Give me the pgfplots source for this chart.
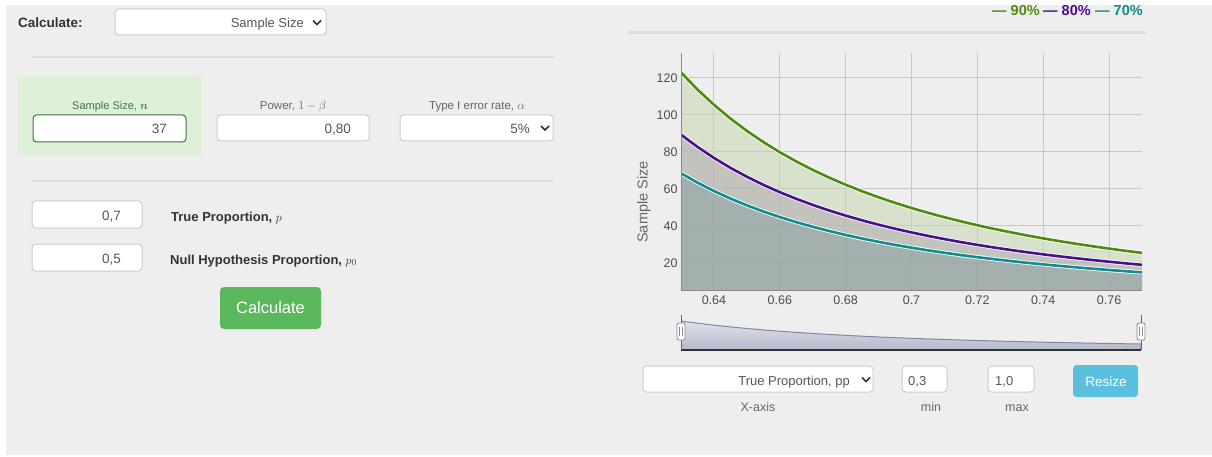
\documentclass[border=0pt]{standalone}
\usepackage{pgfplots}
\pgfplotsset{compat=1.18}
\usepackage{pgfplotstable}
\usepackage{fontspec}
\setmainfont{Liberation Sans}
\usepackage{bm}

\definecolor{pagebg}{HTML}{EEEEEE}
\definecolor{rulec}{HTML}{DDDDDD}
\definecolor{boxline}{HTML}{CCCCCC}
\definecolor{txt}{HTML}{555555}
\definecolor{lbl}{HTML}{666666}
\definecolor{dark}{HTML}{333333}
\definecolor{okfill}{HTML}{DFF0D8}
\definecolor{okline}{HTML}{D6E9C6}
\definecolor{oktext}{HTML}{3C763D}
\definecolor{btngreen}{HTML}{5CB85C}
\definecolor{btnblue}{HTML}{5BC0DE}
\definecolor{c90}{HTML}{4E8A0E}
\definecolor{c80}{HTML}{4B0E8D}
\definecolor{c70}{HTML}{0E8C8E}
\definecolor{f90}{RGB}{194,214,172}
\definecolor{f80}{RGB}{176,166,175}
\definecolor{f70}{RGB}{132,158,158}
\definecolor{gridc}{HTML}{C8C8C8}
\definecolor{axisc}{HTML}{8A8A8A}
\definecolor{tickc}{HTML}{4D4D4D}
\definecolor{navtop}{HTML}{DFE1EA}
\definecolor{navbot}{HTML}{B4B9CC}
\definecolor{navline}{HTML}{7D88A8}

\newcommand\fs[1]{\fontsize{#1}{#1}\selectfont}

% sample size n against true proportion p, for power 90%, 80%, 70%
\pgfplotstableread{
p n90 n80 n70
0.630 122.89 89.33 68.45
0.635 113.68 82.68 63.39
0.640 105.44 76.73 58.86
0.645 98.03 71.39 54.79
0.650 91.35 66.57 51.12
0.655 85.31 62.20 47.80
0.660 79.82 58.24 44.79
0.665 74.83 54.64 42.05
0.670 70.27 51.34 39.54
0.675 66.09 48.33 37.25
0.680 62.26 45.56 35.14
0.685 58.73 43.02 33.20
0.690 55.47 40.67 31.41
0.695 52.47 38.50 29.76
0.700 49.68 36.49 28.23
0.705 47.10 34.62 26.81
0.710 44.69 32.89 25.50
0.715 42.46 31.27 24.27
0.720 40.37 29.77 23.12
0.725 38.42 28.36 22.05
0.730 36.60 27.04 21.05
0.735 34.89 25.81 20.11
0.740 33.28 24.65 19.23
0.745 31.77 23.56 18.40
0.750 30.35 22.54 17.62
0.755 29.02 21.57 16.89
0.760 27.75 20.66 16.20
0.765 26.56 19.80 15.54
0.770 25.44 18.99 14.93
}\sizes

\begin{document}
\begin{tikzpicture}[x=1pt,y=-1pt,
  box/.style={fill=white,draw=boxline,line width=1pt,rounded corners=3.5pt},
  chev/.style={dark,line width=1.7pt},
  t/.style={inner sep=0,yshift=-3pt},
  ts/.style={inner sep=0,yshift=-2.5pt}]
\useasboundingbox (0,0) rectangle (1212,457);
\clip (0,0) rectangle (1212,457);
\fill[white] (0,0) rectangle (1212,457);
\fill[pagebg] (6,5) rectangle (1212,455);

% ---- left panel
\node[t,anchor=mid west,text=dark,font=\fs{13.5}\bfseries] at (18,22) {Calculate:};
\draw[box] (115,9) rectangle (326,35);
\node[t,anchor=mid east,text=txt,font=\fs{13}] at (304,22) {Sample Size};
\draw[chev] (313,20.5) -- (317,24.5) -- (321,20.5);
\draw[rulec,line width=2pt] (32,57) -- (554,57);

\draw[okline,fill=okfill,rounded corners=3pt] (18,76) rectangle (201,156);
\node[ts,anchor=mid,text=oktext,font=\fs{11}] at (110,104) {Sample Size, $\bm{n}$};
\draw[box,draw=oktext] (33,115) rectangle (186,142);
\node[t,anchor=mid east,text=txt,font=\fs{13.5}] at (167,128) {37};

\node[ts,anchor=mid,text=lbl,font=\fs{11.5}] at (293,104) {Power, $1-\beta$};
\draw[box] (217,115) rectangle (369,141);
\node[t,anchor=mid east,text=txt,font=\fs{13.5}] at (351,128) {0,80};

\node[ts,anchor=mid,text=lbl,font=\fs{11.5}] at (477,104) {Type I error rate, $\alpha$};
\draw[box] (400,115) rectangle (553,141);
\node[t,anchor=mid east,text=txt,font=\fs{13.5}] at (530,128) {5\%};
\draw[chev] (541,126) -- (545,130) -- (549,126);

\draw[rulec,line width=2pt] (32,181) -- (554,181);

\draw[box] (32,201) rectangle (142,228);
\node[t,anchor=mid east,text=txt,font=\fs{13.5}] at (121,214.5) {0,7};
\node[t,anchor=mid west,text=dark,font=\fs{13}\bfseries] at (171,215.5) {True Proportion, $p$};
\draw[box] (32,244) rectangle (142,271);
\node[t,anchor=mid east,text=txt,font=\fs{13.5}] at (121,257.5) {0,5};
\node[t,anchor=mid west,text=dark,font=\fs{13}\bfseries] at (170,258.5) {Null Hypothesis Proportion, $p_0$};

\fill[btngreen,rounded corners=4pt] (220,287) rectangle (321,329);
\node[inner sep=0,yshift=-4pt,anchor=mid,text=white,font=\fs{16.5}] at (270.5,307) {Calculate};

% ---- right panel: legend and rule
\begin{scope}
\clip (900,4.5) rectangle (1212,40);
\node[anchor=base west,inner sep=0,text=c90,font=\fs{14.5}\bfseries] at (992,16) {— 90\%};
\node[anchor=base west,inner sep=0,text=c80,font=\fs{14.5}\bfseries] at (1043,16) {— 80\%};
\node[anchor=base west,inner sep=0,text=c70,font=\fs{14.5}\bfseries] at (1095,16) {— 70\%};
\end{scope}
\draw[rulec,line width=3pt] (628,32.5) -- (1146,32.5);

\node[anchor=mid,rotate=90,inner sep=0,text=lbl,font=\fs{14.5}] at (645,202) {Sample Size};

\begin{axis}[
  at={(681pt,-290pt)}, anchor=south west,
  scale only axis, width=461pt, height=237pt,
  xmin=0.63, xmax=0.77, ymin=5.4, ymax=133.4,
  xtick={0.64,0.66,0.68,0.70,0.72,0.74,0.76},
  xticklabels={0.64,0.66,0.68,0.7,0.72,0.74,0.76},
  ytick={20,40,60,80,100,120},
  scaled ticks=false,
  /pgf/number format/assume math mode=true,
  tick label style={font=\fs{12.5}, text=tickc},
  xticklabel style={yshift=-2pt},
  major tick length=0pt, tick style={draw=none},
  axis line style={draw=none},
  grid=major, grid style={draw=gridc, line width=1pt},
]
\addplot[draw=none, fill=f90, fill opacity=0.5] table[x=p,y=n90]{\sizes} \closedcycle;
\addplot[draw=none, fill=f80, fill opacity=0.5] table[x=p,y=n80]{\sizes} \closedcycle;
\addplot[draw=none, fill=f70, fill opacity=0.5] table[x=p,y=n70]{\sizes} \closedcycle;
\addplot[white, line width=4.2pt] table[x=p,y=n90]{\sizes};
\addplot[c90, line width=2.6pt] table[x=p,y=n90]{\sizes};
\addplot[white, line width=4.2pt] table[x=p,y=n80]{\sizes};
\addplot[c80, line width=2.6pt] table[x=p,y=n80]{\sizes};
\addplot[white, line width=4.2pt] table[x=p,y=n70]{\sizes};
\addplot[c70, line width=2.6pt] table[x=p,y=n70]{\sizes};
\draw[axisc, line width=1pt] (rel axis cs:0,1) -- (rel axis cs:0,0) -- (rel axis cs:1,0);
\end{axis}

% ---- navigator
\begin{axis}[
  at={(681pt,-350pt)}, anchor=south west,
  scale only axis, width=460pt, height=33pt,
  xmin=0.63, xmax=0.77, ymin=0, ymax=140,
  hide axis,
]
\addplot[draw=navline, line width=1pt, top color=navtop, bottom color=navbot] table[x=p,y=n90]{\sizes} \closedcycle;
\end{axis}
\draw[dark,line width=2pt] (681,350) -- (1141,350);
\foreach \hx in {681,1141} {
  \draw[lbl,line width=1pt] (\hx,315) -- (\hx,350);
  \draw[fill=white,draw=axisc,line width=0.8pt,rounded corners=2pt] (\hx-4,323) rectangle (\hx+4,340);
  \draw[axisc,line width=0.7pt] (\hx-1.3,327) -- (\hx-1.3,336) (\hx+1.3,327) -- (\hx+1.3,336);
}

% ---- bottom controls
\draw[box] (643,366) rectangle (873,392);
\node[t,anchor=mid east,text=txt,font=\fs{13}] at (850,379.5) {True Proportion, pp};
\draw[chev] (862,377.5) -- (866,381.5) -- (870,377.5);
\node[ts,anchor=mid,text=lbl,font=\fs{12.5}] at (758,406) {X-axis};
\draw[box] (902,366) rectangle (947,392);
\node[t,anchor=mid west,text=txt,font=\fs{13}] at (908,379.5) {0,3};
\node[ts,anchor=mid,text=lbl,font=\fs{12.5}] at (931,406.5) {min};
\draw[box] (988,366) rectangle (1034,392);
\node[t,anchor=mid west,text=txt,font=\fs{13}] at (995,379.5) {1,0};
\node[ts,anchor=mid,text=lbl,font=\fs{12.5}] at (1017,406.5) {max};
\fill[btnblue,rounded corners=3.5pt] (1073,365) rectangle (1138,397);
\node[t,anchor=mid,text=white,font=\fs{13.5}] at (1106,381) {Resize};
\end{tikzpicture}
\end{document}
